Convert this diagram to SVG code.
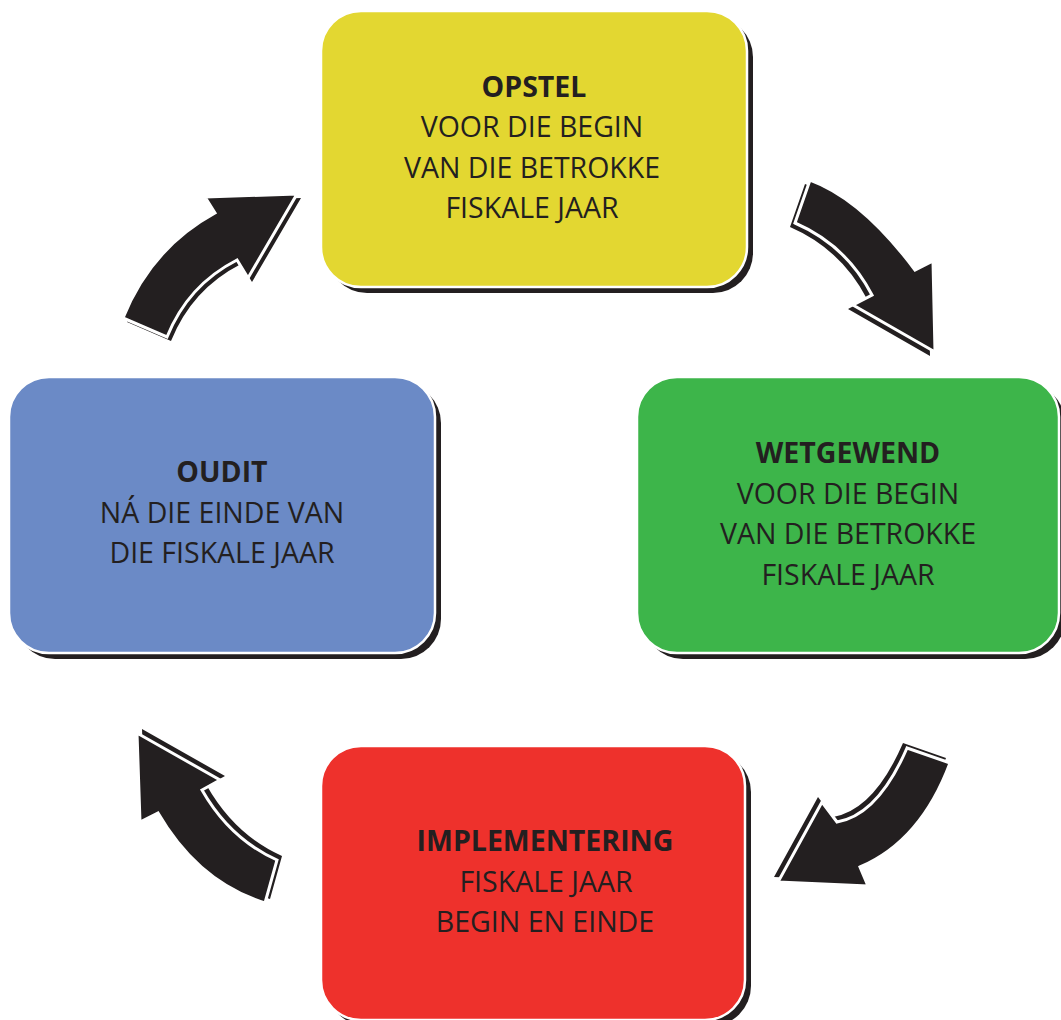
<svg xmlns="http://www.w3.org/2000/svg" width="1061" height="1020" viewBox="0 0 1061 1020">
<style>
.shadow{fill:#231f20}
.box{stroke:#ffffff;stroke-width:2.5}
.t{font-family:"Open Sans","Liberation Sans",sans-serif;font-size:28.5px;fill:#231f20;text-anchor:middle}
.b{font-weight:bold}
.arr{fill:#231f20;stroke:#ffffff;stroke-width:3;stroke-linejoin:miter}
.arrs{fill:#231f20}
</style>
<rect width="1061" height="1020" fill="#ffffff"/>
<g id="connectors">
  <g id="arrow-opstel-wetgewend">
    <path class="arrs" transform="translate(-5,4)" d="M810,180 Q862,199 915,270 L933,261 L935,352 L853,305 L872,295 Q846,245 795,223 Z"/>
    <path class="arr" d="M810,180 Q862,199 915,270 L933,261 L935,352 L853,305 L872,295 Q846,245 795,223 Z"/>
  </g>
  <g id="arrow-wetgewend-implementering">
    <path class="arrs" transform="translate(-4,-5)" d="M907,748 L950,763 Q921,841 860,867 L868,886 L778,882 L822,802 L837,822 Q878,815 907,748 Z"/>
    <path class="arr" d="M907,748 L950,763 Q921,841 860,867 L868,886 L778,882 L822,802 L837,822 Q878,815 907,748 Z"/>
  </g>
  <g id="arrow-implementering-oudit">
    <path class="arrs" transform="translate(5,-4)" d="M265,903 L277,860 Q230,839 202,790 L220,780 L137,733 L140,822 L158,813 Q198,882 265,903 Z"/>
    <path class="arr" d="M265,903 L277,860 Q230,839 202,790 L220,780 L137,733 L140,822 L158,813 Q198,882 265,903 Z"/>
  </g>
  <g id="arrow-oudit-opstel">
    <path class="arrs" transform="translate(4,4)" d="M123,318 L167,337 Q188,285 237,260 L248,278 L297,194 L205,197 L215,213 Q151,248 123,318 Z"/>
    <path class="arr" d="M123,318 L167,337 Q188,285 237,260 L248,278 L297,194 L205,197 L215,213 Q151,248 123,318 Z"/>
  </g>
</g>
<g id="node-opstel">
  <rect class="shadow" x="327" y="17" width="426" height="276" rx="40"/>
  <rect class="box" x="321" y="11" width="426" height="276" rx="40" fill="#e3d731"/>
  <text class="t b" x="534" y="97">OPSTEL</text>
  <text class="t" x="532" y="137">VOOR DIE BEGIN</text>
  <text class="t" x="532" y="178">VAN DIE BETROKKE</text>
  <text class="t" x="532" y="218">FISKALE JAAR</text>
</g>
<g id="node-wetgewend">
  <rect class="shadow" x="643" y="383" width="422" height="276" rx="40"/>
  <rect class="box" x="637" y="377" width="422" height="276" rx="40" fill="#3db54a"/>
  <text class="t b" x="848" y="463">WETGEWEND</text>
  <text class="t" x="848" y="504">VOOR DIE BEGIN</text>
  <text class="t" x="848" y="544">VAN DIE BETROKKE</text>
  <text class="t" x="848" y="585">FISKALE JAAR</text>
</g>
<g id="node-implementering">
  <rect class="shadow" x="327" y="752" width="424" height="274" rx="40"/>
  <rect class="box" x="321" y="746" width="424" height="274" rx="40" fill="#ee312c"/>
  <text class="t b" x="545" y="851">IMPLEMENTERING</text>
  <text class="t" x="546" y="892">FISKALE JAAR</text>
  <text class="t" x="545" y="932">BEGIN EN EINDE</text>
</g>
<g id="node-oudit">
  <rect class="shadow" x="15" y="383" width="426" height="276" rx="40"/>
  <rect class="box" x="9" y="377" width="426" height="276" rx="40" fill="#6b8ac6"/>
  <text class="t b" x="222" y="482">OUDIT</text>
  <text class="t" x="222" y="523">NÁ DIE EINDE VAN</text>
  <text class="t" x="222" y="563">DIE FISKALE JAAR</text>
</g>
</svg>
